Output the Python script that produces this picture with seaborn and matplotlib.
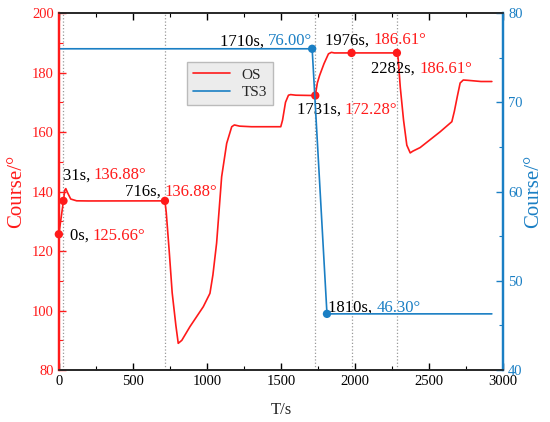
import numpy as np
import pandas as pd
import matplotlib
matplotlib.use('Agg')
import matplotlib.pyplot as plt
import seaborn as sns
from matplotlib.ticker import MultipleLocator

# OS 航向 (左轴)
os_t = [0, 31, 40, 47, 60, 80, 120, 200, 716, 725, 745, 765, 790, 806, 830,
        885, 975, 1020, 1040, 1065, 1099, 1133, 1167, 1185, 1220, 1300, 1498,
        1510, 1530, 1550, 1565, 1600, 1731, 1745, 1760, 1790, 1820, 1840, 1860,
        1976, 2282, 2290, 2305, 2327, 2349, 2372, 2390, 2439, 2574, 2653, 2670,
        2690, 2709, 2730, 2760, 2850, 2923]
os_v = [125.66, 136.88, 140.5, 141.0, 139.5, 137.5, 136.9, 136.85, 136.88, 133.0,
        120.0, 106.0, 95.0, 89.0, 90.0,
        94.6, 101.3, 105.8, 112.0, 122.7, 145.0, 156.2, 161.8, 162.4, 162.0, 161.8, 161.8,
        164.0, 170.0, 172.4, 172.6, 172.4, 172.28, 176.5, 179.0, 183.0, 186.3, 186.8, 186.6,
        186.61, 186.61, 185.0, 175.0, 164.0, 155.6, 153.0, 153.6, 154.8, 160.1, 163.5, 167.0,
        172.0, 176.5, 177.5, 177.4, 177.0, 177.0]

# TS3 航向 (右轴)
ts_t = [0, 1710, 1810, 2923]
ts_v = [76.00, 76.00, 46.30, 46.30]

# 标注点
os_pt_t = [0, 31, 716, 1731, 1976, 2282]
os_pt_v = [125.66, 136.88, 136.88, 172.28, 186.61, 186.61]
ts_pt_t = [1710, 1810]
ts_pt_v = [76.00, 46.30]

event_t = [31, 716, 1731, 1976, 2282]

# 文字: (x, y(左轴), 黑色部分, 彩色部分, 颜色)
labels = [
    (74, 123.7, '0s, ', '125.66°', 'red'),
    (25, 144.1, '31s, ', '136.88°', 'red'),
    (446, 138.5, '716s, ', '136.88°', 'red'),
    (1088, 189.2, '1710s, ', '76.00°', 'blue'),
    (1606, 166.05, '1731s, ', '172.28°', 'red'),
    (1797, 189.5, '1976s, ', '186.61°', 'red'),
    (2108, 179.9, '2282s, ', '186.61°', 'red'),
    (1818, 99.6, '1810s, ', '46.30°', 'blue'),
]

red = '#ff1a1a'
blue = '#1a7fc4'

sns.set_style('ticks')
plt.rcParams['font.family'] = ['Liberation Serif', 'DejaVu Serif']

os_df = pd.DataFrame({'t': os_t, 'v': os_v})
ts_df = pd.DataFrame({'t': ts_t, 'v': ts_v})

fig, ax = plt.subplots(figsize=(5.5, 4.22), dpi=100)
fig.subplots_adjust(left=0.107, right=0.915, top=0.969, bottom=0.123)
ax2 = ax.twinx()

for xv in event_t:
    ax.axvline(xv, color='#999999', ls=':', lw=0.9, zorder=1)

sns.lineplot(data=os_df, x='t', y='v', ax=ax, color=red, lw=1.2, sort=False,
             label='OS')
sns.lineplot(data=ts_df, x='t', y='v', ax=ax2, color=blue, lw=1.2, sort=False,
             label='TS3')
sns.scatterplot(x=os_pt_t, y=os_pt_v, ax=ax, color=red, s=36, edgecolor='none',
                zorder=5, clip_on=False)
sns.scatterplot(x=ts_pt_t, y=ts_pt_v, ax=ax2, color=blue, s=36, edgecolor='none',
                zorder=5, clip_on=False)

ax.set_xlim(0, 3000)
ax.set_ylim(80, 200)
ax2.set_ylim(40, 80)
ax.xaxis.set_major_locator(MultipleLocator(500))
ax.xaxis.set_minor_locator(MultipleLocator(250))
ax.yaxis.set_major_locator(MultipleLocator(20))
ax.yaxis.set_minor_locator(MultipleLocator(10))
ax2.yaxis.set_major_locator(MultipleLocator(10))
ax2.yaxis.set_minor_locator(MultipleLocator(5))

ax.tick_params(axis='x', which='both', direction='in', top=True, labelsize=10.5,
               colors='black')
ax.tick_params(which='major', length=5, width=1)
ax.tick_params(which='minor', length=3, width=0.8)
ax.tick_params(axis='y', which='both', direction='in', colors=red, labelsize=10.5)
ax2.tick_params(axis='y', which='both', direction='in', colors=blue, labelsize=10.5)
ax2.tick_params(which='major', length=5, width=1)
ax2.tick_params(which='minor', length=3, width=0.8)

for a in (ax, ax2):
    a.spines['left'].set_color(red)
    a.spines['right'].set_color(blue)
    for s in a.spines.values():
        s.set_linewidth(1.2)
    a.spines['left'].set_linewidth(1.6)
    a.spines['right'].set_linewidth(1.6)

ax.set_xlabel('T/s', fontsize=12, labelpad=10)
ax.set_ylabel('Course/°', fontsize=15, color=red, labelpad=4)
ax2.set_ylabel('Course/°', fontsize=15, color=blue, labelpad=1)

for x, y, black, colored, c in labels:
    t1 = ax.text(x, y, black, fontsize=12, color='black', va='baseline', ha='left',
                 zorder=6)
    ax.annotate(colored, xy=(1, 0), xycoords=t1, va='bottom', ha='left',
                fontsize=12, color=red if c == 'red' else blue, zorder=6)

h1, l1 = ax.get_legend_handles_labels()
h2, l2 = ax2.get_legend_handles_labels()
if ax.get_legend() is not None:
    ax.get_legend().remove()
if ax2.get_legend() is not None:
    ax2.get_legend().remove()
leg = ax2.legend(h1 + h2, l1 + l2, loc='upper left', bbox_to_anchor=(0.288, 0.863),
                 borderaxespad=0, fancybox=False, fontsize=11, handlelength=2.4,
                 framealpha=1, facecolor='#ececec', edgecolor='#bbbbbb',
                 labelspacing=0.25, borderpad=0.4)
leg.get_frame().set_linewidth(1.0)

fig.savefig('out.png', dpi=100)
